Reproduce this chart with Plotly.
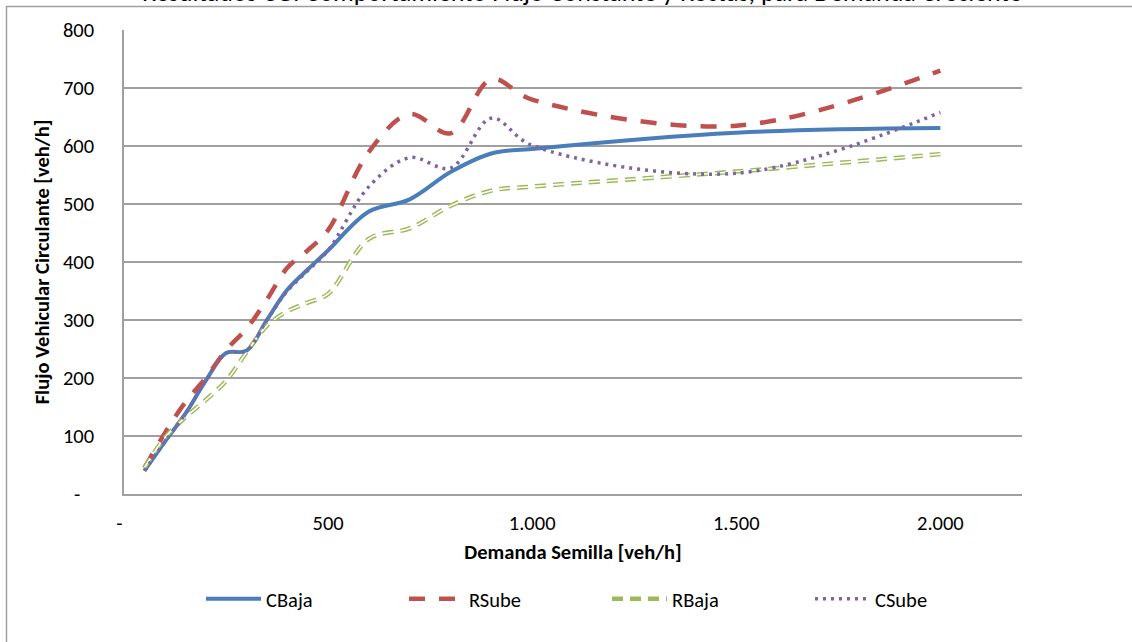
import plotly.graph_objects as go

# ---- data ----
demanda = [50, 100, 150, 200, 250, 300, 350, 400, 450, 500, 600, 700, 800, 900, 1000, 1500, 2000]
cbaja = [40, 90, 138, 195, 243, 247, 300, 352, 387, 420, 487, 508, 555, 587, 595, 623, 631]
rsube = [45, 105, 158, 200, 248, 285, 335, 390, 420, 455, 590, 655, 622, 715, 680, 635, 730]
rbaja = [45, 97, 132, 162, 195, 244, 290, 315, 330, 345, 440, 458, 497, 523, 530, 556, 586]
csube = [40, 90, 138, 195, 243, 247, 300, 350, 385, 420, 530, 580, 562, 648, 601, 553, 658]

x_tickvals = [0, 500, 1000, 1500, 2000]
x_ticktext = ["-\u00a0\u00a0", "500", "1.000", "1.500", "2.000"]
y_tickvals = [0, 100, 200, 300, 400, 500, 600, 700, 800]
y_ticktext = ["-\u00a0\u00a0\u00a0", "100", "200", "300", "400", "500", "600", "700", "800"]

title_text = "Resultados CG: Comportamiento Flujo Constante y Rectas, para Demanda Creciente"

FONT = "Calibri, Carlito, Lato, sans-serif"

fig = go.Figure()
fig.add_trace(go.Scatter(x=demanda, y=cbaja, name="CBaja", mode="lines",
                         line=dict(color="#4A7EBB", width=4, shape="spline", smoothing=1)))
fig.add_trace(go.Scatter(x=demanda, y=rsube, name="RSube", mode="lines",
                         line=dict(color="#C0504D", width=4.5, dash="16px,14px", shape="spline", smoothing=1)))
fig.add_trace(go.Scatter(x=demanda, y=rbaja, name="RBaja", mode="lines",
                         line=dict(color="#9BBB59", width=4.5, dash="11px,7px", shape="spline", smoothing=1)))
fig.add_trace(go.Scatter(x=demanda, y=rbaja, name="RBaja", mode="lines", showlegend=False,
                         hoverinfo="skip",
                         line=dict(color="#FFFFFF", width=1.6, dash="11px,7px", shape="spline", smoothing=1)))
fig.add_trace(go.Scatter(x=demanda, y=csube, name="CSube", mode="lines",
                         line=dict(color="#8064A2", width=3.5, dash="3px,5px", shape="spline", smoothing=1)))

axis_common = dict(showline=True, linecolor="#A0A0A0", linewidth=1.5, ticks="",
                   tickfont=dict(family=FONT, size=20.5, color="#000000"),
                   zeroline=False)

fig.update_xaxes(range=[0, 2200], tickvals=x_tickvals, ticktext=x_ticktext,
                 showgrid=False, ticklabelstandoff=10,
                 title=dict(text="<b>Demanda Semilla [veh/h]</b>", standoff=9,
                            font=dict(family=FONT, size=20.5, color="#000000")),
                 **axis_common)
fig.update_yaxes(range=[0, 800], tickvals=y_tickvals, ticktext=y_ticktext,
                 showgrid=True, gridcolor="#A0A0A0", gridwidth=1.5,
                 ticklabelstandoff=24,
                 title=dict(text="<b>Flujo Vehicular Circulante [veh/h]</b>", standoff=8,
                            font=dict(family=FONT, size=20.5, color="#000000")),
                 **axis_common)

fig.update_layout(
    width=1132, height=642,
    margin=dict(l=124, r=110, t=30, b=148),
    paper_bgcolor="#FFFFFF", plot_bgcolor="#FFFFFF",
    font=dict(family=FONT, size=20.5, color="#000000"),
    showlegend=True,
    legend=dict(orientation="h", x=(201 - 124) / 898, xanchor="left",
                y=(494 - 599) / 464, yanchor="middle",
                itemwidth=55, entrywidth=133, entrywidthmode="pixels",
                font=dict(family=FONT, size=20.5, color="#000000"),
                bgcolor="rgba(0,0,0,0)"),
    shapes=[dict(type="rect", xref="paper", yref="paper",
                 x0=(6.5 - 124) / 898, x1=2.0, y0=-1.0, y1=1 + (30 - 6.5) / 464,
                 line=dict(color="#A0A0A0", width=1.5), fillcolor="rgba(0,0,0,0)",
                 layer="below")],
    annotations=[dict(text=title_text, xref="paper", yref="paper",
                      x=(582 - 124) / 898, y=1 + (30 - 10) / 464,
                      xanchor="center", yanchor="bottom", showarrow=False,
                      font=dict(family=FONT, size=26, color="#000000"))],
)

fig.write_html("out.html")
